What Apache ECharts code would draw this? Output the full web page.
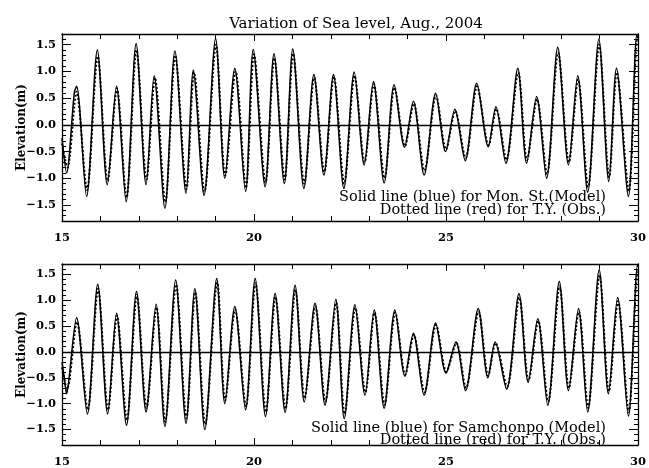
<!DOCTYPE html>
<html>
<head>
<meta charset="utf-8">
<script src="https://cdn.jsdelivr.net/npm/echarts@6/dist/echarts.min.js"></script>
<style>
html, body { margin: 0; padding: 0; background: #fff; }
#chart { width: 649px; height: 468px; }
</style>
</head>
<body>
<div id="chart"></div>
<script>
// sea level, day of Aug. 2004 vs elevation (m) at the highs and lows
var topModel = [
    [15.00, -0.25], [15.12, -0.90], [15.32, 0.60], [15.38, 0.72], [15.64, -1.34], [15.92, 1.40],
    [16.18, -1.12], [16.42, 0.72], [16.67, -1.44], [16.93, 1.52], [17.19, -1.12], [17.40, 0.92],
    [17.68, -1.56], [17.94, 1.38], [18.23, -1.28], [18.42, 1.02], [18.70, -1.32], [19.00, 1.61],
    [19.24, -1.00], [19.50, 1.06], [19.78, -1.25], [19.98, 1.41], [20.29, -1.16], [20.52, 1.33],
    [20.79, -1.10], [21.01, 1.42], [21.30, -1.19], [21.56, 0.94], [21.82, -0.94], [22.07, 0.94],
    [22.34, -1.19], [22.61, 0.99], [22.87, -0.75], [23.11, 0.81], [23.39, -1.09], [23.65, 0.75],
    [23.92, -0.42], [24.15, 0.44], [24.43, -0.94], [24.73, 0.59], [24.99, -0.50], [25.23, 0.29],
    [25.50, -0.67], [25.80, 0.78], [26.10, -0.41], [26.30, 0.34], [26.56, -0.72], [26.87, 1.06],
    [27.10, -0.72], [27.36, 0.53], [27.62, -1.00], [27.91, 1.45], [28.19, -0.75], [28.43, 0.92],
    [28.69, -1.26], [28.98, 1.60], [29.24, -1.06], [29.44, 1.06], [29.75, -1.34], [29.97, 1.68],
    [30.00, 1.62]
];
var topObs = [
    [15.00, -0.35], [15.14, -0.80], [15.38, 0.62], [15.65, -1.22], [15.93, 1.28], [16.19, -1.05],
    [16.43, 0.68], [16.68, -1.36], [16.94, 1.40], [17.20, -1.02], [17.42, 0.88], [17.69, -1.45],
    [17.95, 1.30], [18.24, -1.20], [18.44, 0.98], [18.71, -1.25], [19.01, 1.50], [19.25, -0.95],
    [19.52, 1.00], [19.79, -1.18], [20.00, 1.32], [20.30, -1.08], [20.53, 1.25], [20.80, -1.02],
    [21.02, 1.33], [21.31, -1.10], [21.57, 0.88], [21.83, -0.88], [22.08, 0.90], [22.35, -1.10],
    [22.62, 0.92], [22.88, -0.70], [23.12, 0.76], [23.40, -1.00], [23.66, 0.70], [23.93, -0.40],
    [24.16, 0.40], [24.44, -0.86], [24.74, 0.55], [25.00, -0.46], [25.24, 0.26], [25.51, -0.62],
    [25.81, 0.72], [26.11, -0.38], [26.31, 0.30], [26.57, -0.66], [26.88, 0.98], [27.11, -0.66],
    [27.37, 0.48], [27.63, -0.92], [27.92, 1.35], [28.20, -0.70], [28.44, 0.85], [28.70, -1.16],
    [28.99, 1.50], [29.25, -0.98], [29.45, 0.98], [29.76, -1.24], [29.98, 1.58], [30.00, 1.55]
];
var botModel = [
    [15.00, -0.20], [15.06, -0.50], [15.12, -0.81], [15.17, -0.60], [15.38, 0.66], [15.66, -1.20],
    [15.93, 1.31], [16.19, -1.20], [16.42, 0.75], [16.68, -1.42], [16.94, 1.17], [17.19, -1.16],
    [17.45, 0.92], [17.68, -1.44], [17.96, 1.39], [18.23, -1.38], [18.46, 1.22], [18.72, -1.50],
    [19.03, 1.42], [19.24, -1.00], [19.50, 0.88], [19.78, -1.12], [20.03, 1.42], [20.30, -1.25],
    [20.55, 1.13], [20.81, -1.17], [21.07, 1.29], [21.31, -0.97], [21.59, 0.94], [21.85, -1.03],
    [22.13, 1.02], [22.35, -1.29], [22.63, 0.91], [22.89, -0.84], [23.13, 0.81], [23.39, -1.09],
    [23.67, 0.81], [23.93, -0.47], [24.15, 0.36], [24.43, -0.84], [24.73, 0.56], [25.00, -0.41],
    [25.26, 0.19], [25.51, -0.75], [25.84, 0.84], [26.09, -0.50], [26.28, 0.19], [26.58, -0.72],
    [26.90, 1.13], [27.14, -0.59], [27.39, 0.64], [27.65, -1.03], [27.95, 1.36], [28.19, -0.75],
    [28.45, 0.84], [28.69, -1.16], [28.99, 1.59], [29.23, -0.81], [29.47, 1.05], [29.75, -1.24],
    [29.99, 1.68], [30.00, 1.65]
];
var botObs = [
    [15.00, -0.30], [15.13, -0.72], [15.39, 0.58], [15.67, -1.12], [15.94, 1.22], [16.20, -1.12],
    [16.43, 0.70], [16.69, -1.32], [16.95, 1.10], [17.20, -1.08], [17.46, 0.86], [17.69, -1.35],
    [17.97, 1.30], [18.24, -1.28], [18.47, 1.15], [18.73, -1.40], [19.04, 1.34], [19.25, -0.94],
    [19.51, 0.82], [19.79, -1.05], [20.04, 1.33], [20.31, -1.16], [20.56, 1.06], [20.82, -1.10],
    [21.08, 1.20], [21.32, -0.90], [21.60, 0.88], [21.86, -0.96], [22.14, 0.95], [22.36, -1.20],
    [22.64, 0.85], [22.90, -0.78], [23.14, 0.76], [23.40, -1.02], [23.68, 0.76], [23.94, -0.44],
    [24.16, 0.33], [24.44, -0.78], [24.74, 0.52], [25.01, -0.38], [25.27, 0.17], [25.52, -0.70],
    [25.85, 0.78], [26.10, -0.46], [26.29, 0.17], [26.59, -0.67], [26.91, 1.05], [27.15, -0.55],
    [27.40, 0.60], [27.66, -0.96], [27.96, 1.27], [28.20, -0.70], [28.46, 0.78], [28.70, -1.08],
    [29.00, 1.48], [29.24, -0.76], [29.48, 0.98], [29.76, -1.16], [29.99, 1.56], [30.00, 1.55]
];
var yMajorTicks = [-1.5, -1.0, -0.5, 0.0, 0.5, 1.0, 1.5];
var titleText = 'Variation of Sea level, Aug., 2004';
var topNotes = ['Solid line (blue) for Mon. St.(Model)', 'Dotted line (red) for T.Y. (Obs.)'];
var botNotes = ['Solid line (blue) for Samchonpo (Model)', 'Dotted line (red) for T.Y. (Obs.)'];

var FONT = 'DejaVu Serif';
var NOTE_FONT = '14.5px "DejaVu Serif"';
var myChart = echarts.init(document.getElementById('chart'));

function makeX(g, pos) {
    return {
        type: 'value', gridIndex: g, position: pos, min: 15, max: 30, interval: 5,
        axisLine: { show: true, onZero: false, lineStyle: { color: '#000', width: 1.3 } },
        axisTick: { show: true, inside: true, length: 7, lineStyle: { color: '#000' } },
        minorTick: { show: true, splitNumber: 5, length: 5, lineStyle: { color: '#000' } },
        axisLabel: {
            show: pos === 'bottom', color: '#000', fontFamily: FONT, fontWeight: 'bold',
            fontSize: 11.5, margin: 11
        },
        splitLine: { show: false }
    };
}
function makeYMinor(g, pos) {
    var ax = {
        type: 'value', gridIndex: g, position: pos, min: -1.8, max: 1.7, interval: 0.1,
        axisLine: { show: true, onZero: false, lineStyle: { color: '#000', width: 1.3 } },
        axisTick: { show: true, inside: true, length: 4, lineStyle: { color: '#000' } },
        axisLabel: { show: false },
        splitLine: { show: false }
    };
    if (pos === 'left') {
        ax.name = 'Elevation(m)';
        ax.nameLocation = 'middle';
        ax.nameGap = 34;
        ax.nameTextStyle = { color: '#000', fontFamily: FONT, fontWeight: 'bold', fontSize: 12 };
    }
    return ax;
}
function makeYMajor(g, pos) {
    return {
        type: 'value', gridIndex: g, position: pos, min: -1.8, max: 1.7,
        axisLine: { show: false },
        axisTick: { show: true, inside: true, length: 9, customValues: yMajorTicks, lineStyle: { color: '#000' } },
        axisLabel: {
            show: pos === 'left', customValues: yMajorTicks, color: '#000', fontFamily: FONT,
            fontWeight: 'bold', fontSize: 11.5, margin: 6,
            formatter: function (v) { return v.toFixed(1).replace('-', '\u2212'); }
        },
        splitLine: { show: false }
    };
}
function makeSeries(g, model, obs) {
    return [
        {
            type: 'line', xAxisIndex: 2 * g, yAxisIndex: 4 * g, data: model,
            smooth: 0.3, symbol: 'none',
            lineStyle: { color: '#000', width: 1.5 },
            markLine: {
                silent: true, symbol: 'none', label: { show: false },
                lineStyle: { color: '#000', width: 1.3, type: 'solid' },
                data: [{ yAxis: 0 }]
            }
        },
        {
            type: 'line', xAxisIndex: 2 * g, yAxisIndex: 4 * g, data: obs,
            smooth: 0.3, symbol: 'none',
            lineStyle: { color: '#000', width: 2, type: [2, 2] }
        }
    ];
}

var option = {
    animation: false,
    title: {
        text: titleText, left: 351, top: 12, textAlign: 'center',
        textStyle: { color: '#000', fontFamily: FONT, fontWeight: 'normal', fontSize: 15 }
    },
    grid: [
        { left: 62, right: 11, top: 34, height: 187 },
        { left: 62, right: 11, top: 264, height: 187 }
    ],
    xAxis: [makeX(0, 'bottom'), makeX(0, 'top'), makeX(1, 'bottom'), makeX(1, 'top')],
    yAxis: [
        makeYMinor(0, 'left'), makeYMajor(0, 'left'), makeYMinor(0, 'right'), makeYMajor(0, 'right'),
        makeYMinor(1, 'left'), makeYMajor(1, 'left'), makeYMinor(1, 'right'), makeYMajor(1, 'right')
    ],
    graphic: [
        { type: 'text', right: 43, top: 190, style: { text: topNotes[0], fill: '#000', font: NOTE_FONT } },
        { type: 'text', right: 43, top: 203, style: { text: topNotes[1], fill: '#000', font: NOTE_FONT } },
        { type: 'text', right: 43, top: 421, style: { text: botNotes[0], fill: '#000', font: NOTE_FONT } },
        { type: 'text', right: 43, top: 433, style: { text: botNotes[1], fill: '#000', font: NOTE_FONT } }
    ],
    series: makeSeries(0, topModel, topObs).concat(makeSeries(1, botModel, botObs))
};
myChart.setOption(option);
window.addEventListener('resize', function () { myChart.resize(); });
</script>
</body>
</html>
